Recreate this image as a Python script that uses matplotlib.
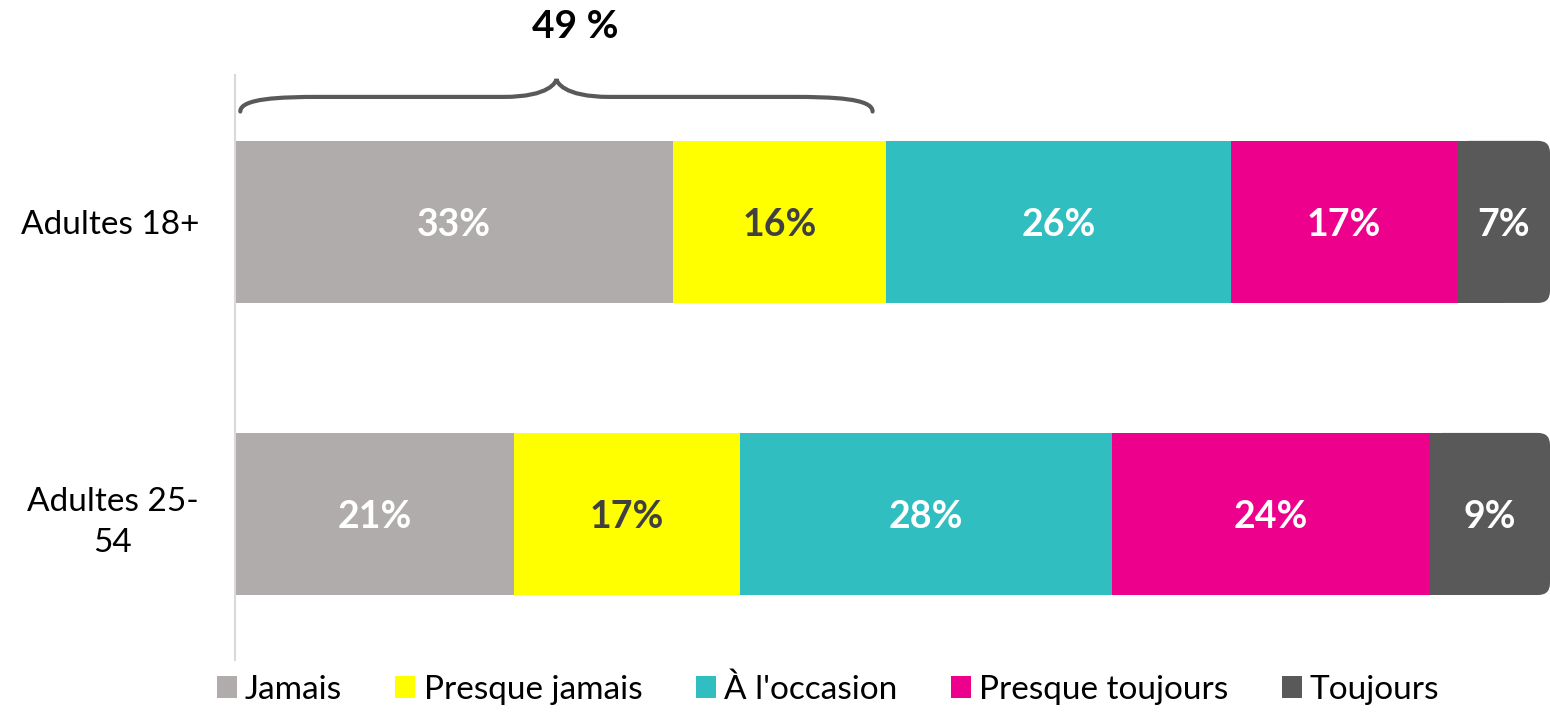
import matplotlib.pyplot as plt
from matplotlib.path import Path
from matplotlib.patches import PathPatch, FancyBboxPatch

plt.rcParams['font.family'] = ['Lato', 'DejaVu Sans']

categories = ['Adultes 18+', 'Adultes 25-\n54']
series = ['Jamais', 'Presque jamais', "À l'occasion", 'Presque toujours', 'Toujours']
values = [
    [33, 21],
    [16, 17],
    [26, 28],
    [17, 24],
    [7, 9],
]
colors = ['#AFACAB', '#FFFF00', '#31BEC1', '#EC008C', '#595959']
text_colors = ['white', '#404040', 'white', 'white', 'white']
brace_label = '49 %'

fig = plt.figure(figsize=(15.5, 7.12), dpi=100)
ax = fig.add_axes([235 / 1550, 52 / 712, 1315 / 1550, 585 / 712])

bh = 0.555
ypos = list(range(len(categories)))
left = [0] * len(categories)
last = len(series) - 1
for s in range(len(series)):
    if s == last:
        # dernier segment : coins droits arrondis
        ax.barh(ypos, [v / 2 for v in values[s]], left=left, height=bh,
                color=colors[s], label=series[s])
        for i in ypos:
            ax.add_patch(FancyBboxPatch((left[i], i - bh / 2), values[s][i], bh,
                                        boxstyle='round,pad=0,rounding_size=0.9',
                                        mutation_aspect=13.3 / 292,
                                        facecolor=colors[s], edgecolor='none'))
    else:
        ax.barh(ypos, values[s], left=left, height=bh, color=colors[s],
                label=series[s])
    for i in ypos:
        ax.text(left[i] + values[s][i] / 2, i + 0.012, f'{values[s][i]}%',
                ha='center', va='center', fontsize=27, fontweight='bold',
                color=text_colors[s])
    left = [left[i] + values[s][i] for i in ypos]

ax.set_xlim(0, 99)
ax.set_ylim(1.5, -0.503)
ax.set_xticks([])
ax.set_yticks(ypos)
ax.set_yticklabels(categories, fontsize=24, multialignment='center',
                   linespacing=1.45)
ax.tick_params(axis='y', length=0, pad=26)
for sp in ['top', 'right', 'bottom']:
    ax.spines[sp].set_visible(False)
ax.spines['left'].set_color('#D9D9D9')
ax.spines['left'].set_linewidth(1.5)

# accolade au-dessus de Jamais + Presque jamais
x0 = 0.4
x1 = values[0][0] + values[1][0] - 1.0
xm = (x0 + x1) / 2
yb, yf, yt = -0.378, -0.428, -0.49
verts = [
    (x0, yb), (x0, yf + 0.005), (x0 + 3, yf), (x0 + 6, yf),
    (xm - 4, yf), (xm - 0.5, yf), (xm, yt + 0.01), (xm, yt),
    (xm, yt + 0.01), (xm + 0.5, yf), (xm + 4, yf),
    (x1 - 6, yf), (x1 - 3, yf), (x1, yf + 0.005), (x1, yb),
]
codes = [Path.MOVETO, Path.CURVE4, Path.CURVE4, Path.CURVE4,
         Path.LINETO, Path.CURVE4, Path.CURVE4, Path.CURVE4,
         Path.CURVE4, Path.CURVE4, Path.CURVE4,
         Path.LINETO, Path.CURVE4, Path.CURVE4, Path.CURVE4]
ax.add_patch(PathPatch(Path(verts, codes), fill=False, edgecolor='#595959',
                       linewidth=3, clip_on=False, capstyle='round'))
ax.text(xm + 1.4, -0.67, brace_label, ha='center', va='center',
        fontsize=28, fontweight='bold', color='black', clip_on=False)

fig.legend(loc='lower center', bbox_to_anchor=(828 / 1550, -0.032), ncol=5,
           frameon=False, fontsize=24, handlelength=0.6, handleheight=0.6,
           handletextpad=0.25, columnspacing=1.6)

fig.savefig('out.png', dpi=100)
